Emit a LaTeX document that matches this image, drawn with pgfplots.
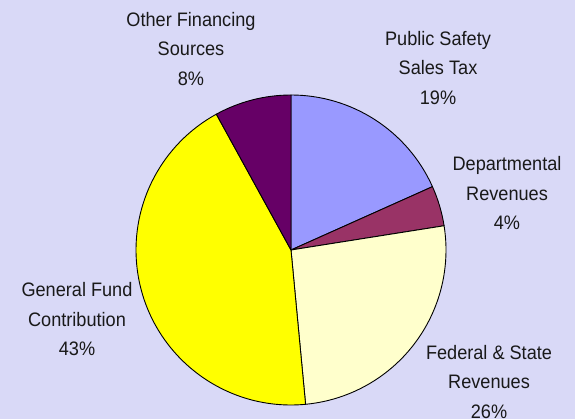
\documentclass[border=0pt]{standalone}
\usepackage{pgfplots}
\pgfplotsset{compat=1.18}
\usepackage{fontspec}
\setmainfont{Liberation Sans}[FakeStretch=0.93]
\definecolor{bg}{HTML}{D9D9F7}
\definecolor{cPS}{HTML}{9999FF}
\definecolor{cDR}{HTML}{993366}
\definecolor{cFS}{HTML}{FFFFCC}
\definecolor{cGF}{HTML}{FFFF00}
\definecolor{cOF}{HTML}{660066}
\begin{document}
\begin{tikzpicture}
\begin{axis}[
  width=575bp, height=419bp, scale only axis,
  xmin=0, xmax=575, ymin=0, ymax=419,
  hide axis, clip=false,
]
% background
\fill[bg] (axis cs:0,0) rectangle (axis cs:575,419);
% pie: shares in percent, clockwise from 12 o'clock
% Public Safety 18.3, Departmental 4.2, Federal & State 26.0, General Fund 43.5, Other 8.0
\def\R{155bp}
\def\a{90}
\def\b{(90-18.3*3.6)}
\def\c{(90-22.5*3.6)}
\def\d{(90-48.5*3.6)}
\def\e{(90-92.0*3.6)}
\def\f{(90-100*3.6)}
\draw[fill=cPS, line width=0.9pt, line join=round] (axis cs:291,169) -- ++({\a}:\R) arc[start angle={\a}, end angle={\b}, radius=\R] -- cycle;
\draw[fill=cDR, line width=0.9pt, line join=round] (axis cs:291,169) -- ++({\b}:\R) arc[start angle={\b}, end angle={\c}, radius=\R] -- cycle;
\draw[fill=cFS, line width=0.9pt, line join=round] (axis cs:291,169) -- ++({\c}:\R) arc[start angle={\c}, end angle={\d}, radius=\R] -- cycle;
\draw[fill=cGF, line width=0.9pt, line join=round] (axis cs:291,169) -- ++({\d}:\R) arc[start angle={\d}, end angle={\e}, radius=\R] -- cycle;
\draw[fill=cOF, line width=0.9pt, line join=round] (axis cs:291,169) -- ++({\e}:\R) arc[start angle={\e}, end angle={\f}, radius=\R] -- cycle;
% labels
\tikzset{lab/.style={align=center, font=\fontsize{19.5bp}{29.5bp}\selectfont, text=black!90, inner sep=0pt}}
\node[lab] at (axis cs:191,{419-49}) {Other Financing\\Sources\\8\%};
\node[lab] at (axis cs:438,{419-68}) {Public Safety\\Sales Tax\\19\%};
\node[lab] at (axis cs:507,{419-193}) {Departmental\\Revenues\\4\%};
\node[lab] at (axis cs:489,{419-382}) {Federal \& State\\Revenues\\26\%};
\node[lab] at (axis cs:77,{419-319.5}) {General Fund\\Contribution\\43\%};
\end{axis}
\end{tikzpicture}
\end{document}
